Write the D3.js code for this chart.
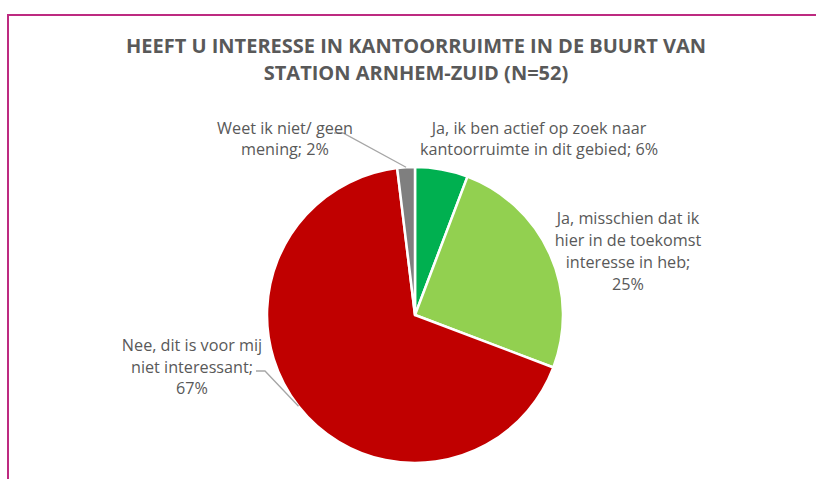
<!DOCTYPE html>
<html lang="nl">
<head>
    <meta charset="UTF-8">
    <title>Interesse kantoorruimte Arnhem-Zuid</title>
    <script src="https://d3js.org/d3.v7.min.js"></script>
    <style>
        body {
            margin: 0;
            padding: 0;
            background: #fff;
        }
        svg text {
            font-family: "Open Sans", sans-serif;
        }
    </style>
</head>
<body>
    <div id="chart"></div>

    <script>
        // Antwoorden (n=52), in volgorde met de klok mee vanaf 12 uur
        const categories = [
            'Ja, ik ben actief op zoek naar kantoorruimte in dit gebied',
            'Ja, misschien dat ik hier in de toekomst interesse in heb',
            'Nee, dit is voor mij niet interessant',
            'Weet ik niet/ geen mening'
        ];
        const counts = [3, 13, 35, 1];
        const colors = ['#00b050', '#92d050', '#c00000', '#7f7f7f'];

        // labeltekst zoals in de grafiek afgebroken
        const labelLines = [
            ['Ja, ik ben actief op zoek naar', 'kantoorruimte in dit gebied; {p}'],
            ['Ja, misschien dat ik', 'hier in de toekomst', 'interesse in heb;', '{p}'],
            ['Nee, dit is voor mij', 'niet interessant;', '{p}'],
            ['Weet ik niet/ geen', 'mening; {p}']
        ];

        const width = 816, height = 479;
        const cx = 415, cy = 315, radius = 148;

        // label plaatsing (midden x, eerste basislijn y)
        const labelPos = [
            { x: 539, y: 134 },
            { x: 628, y: 224 },
            { x: 192, y: 351 },
            { x: 285, y: 134 }
        ];
        const lineHeight = [21, 22, 21.5, 21];
        // leader lijn startpunten (bij de tekst)
        const leaderStart = [null, null, [256, 371], [334, 133]];

        const svg = d3.select('#chart')
            .append('svg')
            .attr('width', width)
            .attr('height', height);

        // rand (alleen boven en links zichtbaar)
        svg.append('line')
            .attr('x1', 7).attr('y1', 15).attr('x2', width).attr('y2', 15)
            .attr('stroke', '#bd2a80').attr('stroke-width', 2);
        svg.append('line')
            .attr('x1', 8).attr('y1', 14).attr('x2', 8).attr('y2', height)
            .attr('stroke', '#bd2a80').attr('stroke-width', 2);

        // titel
        const title = svg.append('text')
            .attr('text-anchor', 'middle')
            .attr('fill', '#595959')
            .attr('font-size', 20)
            .attr('font-weight', 'bold');
        title.append('tspan').attr('x', 416).attr('y', 53)
            .text('HEEFT U INTERESSE IN KANTOORRUIMTE IN DE BUURT VAN');
        title.append('tspan').attr('x', 416).attr('y', 80)
            .text('STATION ARNHEM-ZUID (N=52)');

        const total = d3.sum(counts);
        const pie = d3.pie().sort(null).value(d => d);
        const arcs = pie(counts);

        const arc = d3.arc().innerRadius(0).outerRadius(radius);
        const edge = d3.arc().innerRadius(radius).outerRadius(radius);

        const g = svg.append('g').attr('transform', `translate(${cx},${cy})`);

        g.selectAll('path')
            .data(arcs)
            .enter().append('path')
            .attr('d', arc)
            .attr('fill', (d, i) => colors[i])
            .attr('stroke', '#fff')
            .attr('stroke-width', 2.5)
            .attr('stroke-linejoin', 'round');

        // leader lijnen
        arcs.forEach((d, i) => {
            if (!leaderStart[i]) return;
            const [ex, ey] = edge.centroid(d);
            const [sx, sy] = leaderStart[i];
            svg.append('polyline')
                .attr('points', `${sx},${sy} ${sx + 9},${sy} ${cx + ex},${cy + ey}`)
                .attr('fill', 'none')
                .attr('stroke', '#a6a6a6')
                .attr('stroke-width', 1.3);
        });

        // labels
        arcs.forEach((d, i) => {
            const pct = Math.round(d.value / total * 100) + '%';
            const t = svg.append('text')
                .attr('text-anchor', 'middle')
                .attr('fill', '#595959')
                .attr('font-size', 16.2);
            labelLines[i].forEach((line, k) => {
                t.append('tspan')
                    .attr('x', labelPos[i].x)
                    .attr('y', labelPos[i].y + k * lineHeight[i])
                    .text(line.replace('{p}', pct));
            });
        });
    </script>
</body>
</html>
